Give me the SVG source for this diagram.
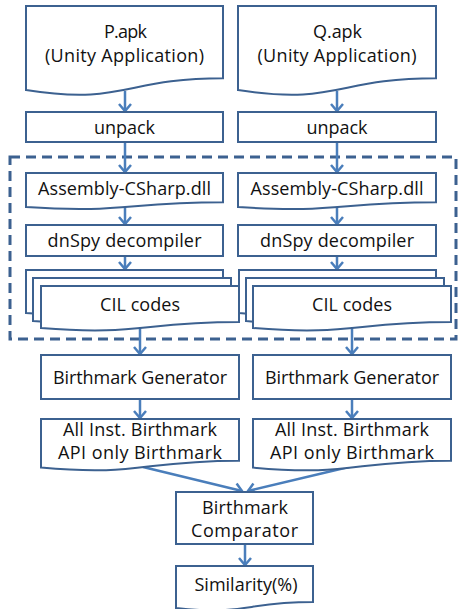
<svg xmlns="http://www.w3.org/2000/svg" width="461" height="609" viewBox="0 0 461 609">
<defs>
<style>
.box{fill:#fff;stroke:#3C6190;stroke-width:2}
.dash{fill:none;stroke:#3C6190;stroke-width:3;stroke-dasharray:10 6}
.arr{fill:none;stroke:#4A7EBB;stroke-width:2.5;marker-end:url(#ah)}
text{font-family:"Open Sans","Noto Sans",sans-serif;font-size:18px;fill:#111;text-anchor:middle;dominant-baseline:central}
</style>
<marker id="ah" markerUnits="userSpaceOnUse" markerWidth="20" markerHeight="20" viewBox="-10 -10 20 20" refX="0" refY="0" orient="auto" overflow="visible">
<path d="M-7,-6 L0,0 L-7,6" fill="none" stroke="#4A7EBB" stroke-width="2.5"/>
</marker>
</defs>
<rect width="461" height="609" fill="#fff"/>
<g id="dashed-group"><rect class="dash" x="10" y="157" width="446" height="182"/></g>
<g id="connectors">
<line class="arr" x1="125" y1="91" x2="125" y2="111"/>
<line class="arr" x1="337" y1="91" x2="337" y2="111"/>
<line class="arr" x1="125" y1="142" x2="125" y2="172"/>
<line class="arr" x1="337" y1="142" x2="337" y2="172"/>
<line class="arr" x1="125" y1="207" x2="125" y2="224"/>
<line class="arr" x1="337" y1="207" x2="337" y2="224"/>
<line class="arr" x1="125" y1="256" x2="125" y2="269"/>
<line class="arr" x1="337" y1="256" x2="337" y2="269"/>
<line class="arr" x1="140" y1="328" x2="140" y2="354"/>
<line class="arr" x1="352" y1="328" x2="352" y2="354"/>
<line class="arr" x1="140" y1="399" x2="140" y2="418"/>
<line class="arr" x1="352" y1="399" x2="352" y2="418"/>
<line class="arr" x1="143" y1="467" x2="242" y2="491"/>
<line class="arr" x1="353" y1="466" x2="248" y2="491"/>
<line class="arr" x1="245" y1="544" x2="245" y2="565"/>
</g>
<g id="p-apk"><path class="box" d="M26,6 H223 V78.2 C124.5,78.2 124.5,105.6 26,90.1 Z"/><text x="125.5" y="31" textLength="43">P.apk</text><text x="124.5" y="55" textLength="159">(Unity Application)</text></g>
<g id="q-apk"><path class="box" d="M238,6 H436 V78.2 C337,78.2 337,105.6 238,90.1 Z"/><text x="337.5" y="31" textLength="49">Q.apk</text><text x="337" y="55" textLength="159">(Unity Application)</text></g>
<g id="unpack-p"><rect class="box" x="26" y="112" width="197" height="30"/><text x="124.5" y="127" textLength="61">unpack</text></g>
<g id="unpack-q"><rect class="box" x="238" y="112" width="198" height="30"/><text x="337" y="127" textLength="61">unpack</text></g>
<g id="dll-p"><path class="box" d="M26,173 H223 V202.3 C124.5,202.3 124.5,213.4 26,207.1 Z"/><text x="124.5" y="188" textLength="173">Assembly-CSharp.dll</text></g>
<g id="dll-q"><path class="box" d="M238,173 H436 V202.3 C337,202.3 337,213.4 238,207.1 Z"/><text x="337" y="188" textLength="173">Assembly-CSharp.dll</text></g>
<g id="dnspy-p"><rect class="box" x="26" y="225" width="197" height="31"/><text x="124.5" y="240" textLength="154">dnSpy decompiler</text></g>
<g id="dnspy-q"><rect class="box" x="238" y="225" width="198" height="31"/><text x="337" y="240" textLength="154">dnSpy decompiler</text></g>
<g id="cil-p">
<path class="box" d="M26,270 H223 V306.9 C124.5,306.9 124.5,320.9 26,313 Z"/>
<path class="box" d="M33,278 H231 V314.9 C132,314.9 132,328.9 33,321 Z"/>
<path class="box" d="M41,286 H239 V322.1 C140,322.1 140,335.8 41,328 Z"/>
<text x="140" y="304" textLength="80">CIL codes</text>
</g>
<g id="cil-q">
<path class="box" d="M239,270 H436 V306.9 C337.5,306.9 337.5,320.9 239,313 Z"/>
<path class="box" d="M246,278 H444 V314.9 C345,314.9 345,328.9 246,321 Z"/>
<path class="box" d="M253,286 H451 V322.1 C352,322.1 352,335.8 253,328 Z"/>
<text x="352" y="304" textLength="80">CIL codes</text>
</g>
<g id="gen-p"><rect class="box" x="41" y="355" width="198" height="44"/><text x="140" y="377" textLength="174">Birthmark Generator</text></g>
<g id="gen-q"><rect class="box" x="253" y="355" width="198" height="44"/><text x="352" y="377" textLength="174">Birthmark Generator</text></g>
<g id="bm-p"><path class="box" d="M41,419 H239 V460.7 C140,460.7 140,476.6 41,467.6 Z"/><text x="140" y="429" textLength="154">All Inst. Birthmark</text><text x="140" y="452" textLength="164">API only Birthmark</text></g>
<g id="bm-q"><path class="box" d="M253,419 H451 V460.7 C352,460.7 352,476.6 253,467.6 Z"/><text x="352" y="429" textLength="154">All Inst. Birthmark</text><text x="352" y="452" textLength="164">API only Birthmark</text></g>
<g id="comparator"><rect class="box" x="176" y="492" width="137" height="52"/><text x="245" y="507" textLength="86">Birthmark</text><text x="244.5" y="530" textLength="107">Comparator</text></g>
<g id="similarity"><path class="box" d="M176,566 H313 V602.1 C244.5,602.1 244.5,615.8 176,608 Z"/><text x="246" y="584" textLength="103">Similarity(%)</text></g>
</svg>
